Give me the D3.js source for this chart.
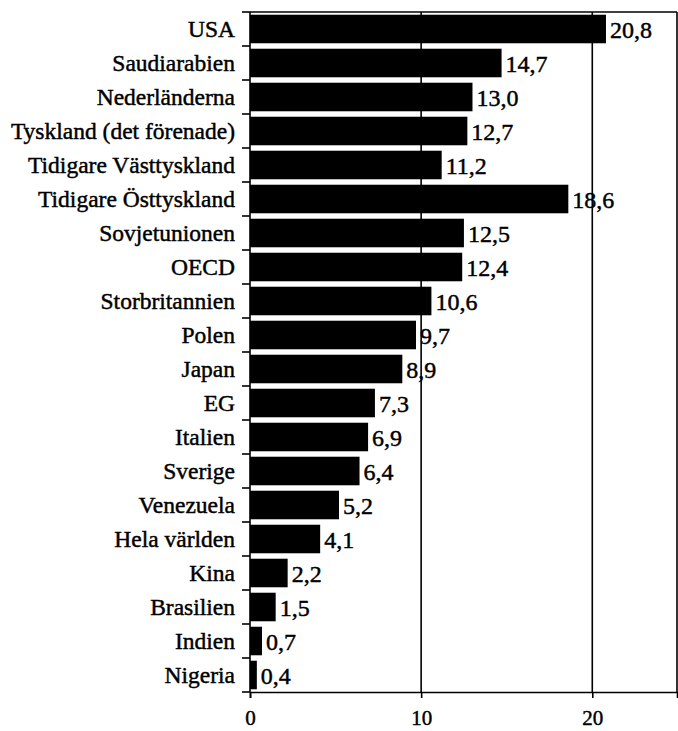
<!DOCTYPE html>
<html>
<head>
<meta charset="utf-8">
<script src="https://cdn.jsdelivr.net/npm/d3@7"></script>
<style>
  body { margin: 0; background: #fff; }
  text { font-family: "Liberation Serif", "DejaVu Serif", serif; fill: #000; stroke: #000; stroke-width: 0.45px; }
</style>
</head>
<body>
<div id="chart"></div>
<script>
const countries = [
  "USA", "Saudiarabien", "Nederländerna", "Tyskland (det förenade)",
  "Tidigare Västtyskland", "Tidigare Östtyskland", "Sovjetunionen", "OECD",
  "Storbritannien", "Polen", "Japan", "EG", "Italien", "Sverige",
  "Venezuela", "Hela världen", "Kina", "Brasilien", "Indien", "Nigeria"
];
const values = [
  20.8, 14.7, 13.0, 12.7, 11.2, 18.6, 12.5, 12.4, 10.6, 9.7,
  8.9, 7.3, 6.9, 6.4, 5.2, 4.1, 2.2, 1.5, 0.7, 0.4
];
const xTicks = [0, 10, 20];

const data = countries.map((c, i) => ({ name: c, value: values[i] }));

const W = 678, H = 731;
const margin = { top: 12, right: 1, bottom: 39, left: 250 };
const width = W - margin.left - margin.right;
const height = H - margin.top - margin.bottom;

const svg = d3.select("#chart").append("svg")
  .attr("width", W).attr("height", H);
const g = svg.append("g")
  .attr("transform", `translate(${margin.left},${margin.top})`);

const x = d3.scaleLinear().domain([0, 24.95]).range([0, width]);
const y = d3.scaleBand().domain(countries).range([0, height]).paddingInner(0.16).paddingOuter(0.08);
const step = y.step();

// grid lines at 10 and 20
g.selectAll(".grid")
  .data(xTicks.filter(d => d > 0))
  .join("line")
  .attr("x1", d => x(d)).attr("x2", d => x(d))
  .attr("y1", 0).attr("y2", height)
  .attr("stroke", "#000").attr("stroke-width", 1.6);

// frame: top and right
g.append("line").attr("x1", 0).attr("x2", width).attr("y1", 0).attr("y2", 0)
  .attr("stroke", "#000").attr("stroke-width", 1.6);
g.append("line").attr("x1", width).attr("x2", width).attr("y1", 0).attr("y2", height)
  .attr("stroke", "#000").attr("stroke-width", 1.6);

// bars
g.selectAll(".bar")
  .data(data)
  .join("rect")
  .attr("x", 0)
  .attr("y", d => y(d.name))
  .attr("width", d => x(d.value))
  .attr("height", y.bandwidth())
  .attr("fill", "#000");

// value labels
g.selectAll(".val")
  .data(data)
  .join("text")
  .attr("x", d => x(d.value) + 4)
  .attr("y", d => y(d.name) + y.bandwidth() / 2)
  .attr("dy", "0.36em")
  .style("font-size", "24px")
  .text(d => d3.format(".1f")(d.value).replace(".", ","));

// category labels
g.selectAll(".cat")
  .data(data)
  .join("text")
  .attr("x", -15)
  .attr("y", d => y(d.name) + y.bandwidth() / 2)
  .attr("dy", "0.36em")
  .attr("text-anchor", "end")
  .style("font-size", "23.5px")
  .text(d => d.name);

// left axis with boundary ticks
g.append("line").attr("x1", 0).attr("x2", 0).attr("y1", 0).attr("y2", height)
  .attr("stroke", "#000").attr("stroke-width", 1.6);
g.selectAll(".ytick")
  .data(d3.range(countries.length + 1))
  .join("line")
  .attr("x1", -8).attr("x2", 0)
  .attr("y1", i => i * step).attr("y2", i => i * step)
  .attr("stroke", "#000").attr("stroke-width", 1.6);

// bottom axis
const xAxis = g.append("g")
  .attr("transform", `translate(0,${height})`)
  .call(d3.axisBottom(x).tickValues(xTicks).tickSize(6).tickPadding(12).tickFormat(d3.format("d")));
xAxis.select(".domain").attr("stroke-width", 1.6);
xAxis.selectAll(".tick line").attr("stroke-width", 1.6);
xAxis.selectAll("text")
  .style("font-family", "'Liberation Serif', serif")
  .style("font-size", "21px")
  .style("stroke", "#000")
  .style("stroke-width", "0.45px");
</script>
</body>
</html>
